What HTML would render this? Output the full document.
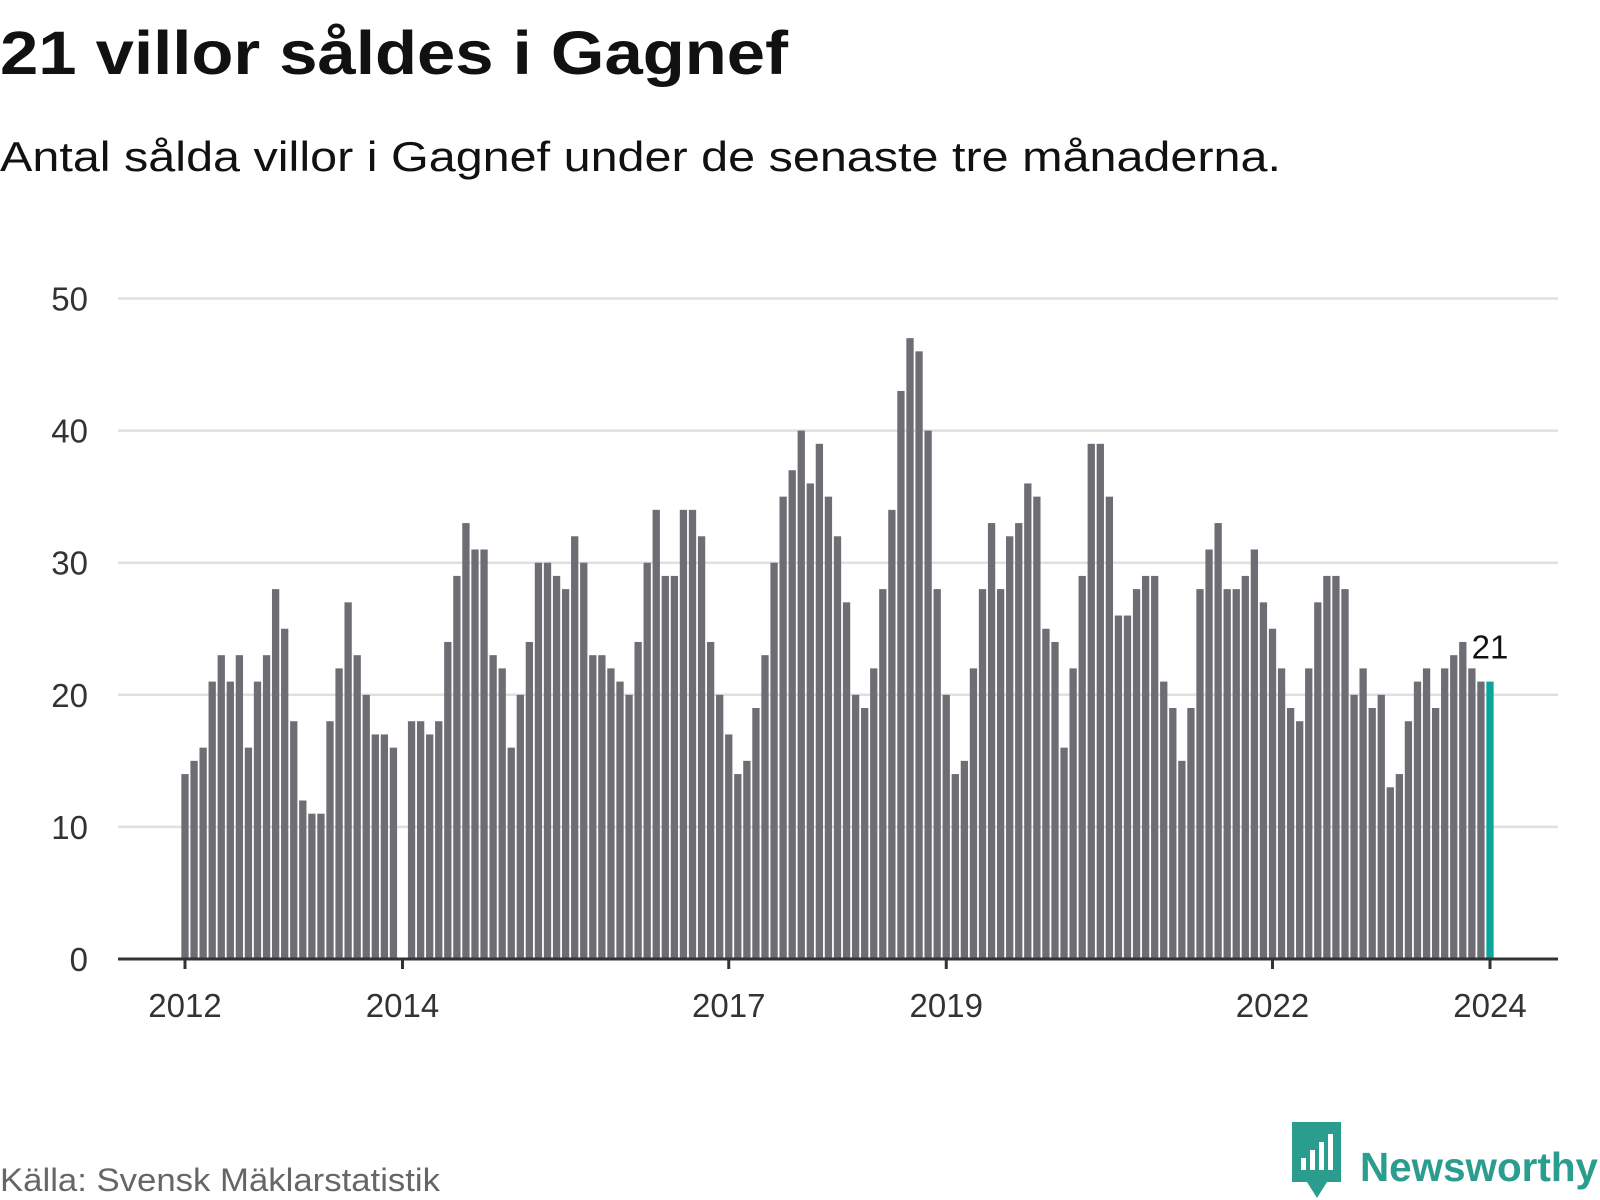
<!DOCTYPE html>
<html><head><meta charset="utf-8"><style>
html,body{margin:0;padding:0;background:#fff;}
svg{display:block;font-family:"Liberation Sans",sans-serif;}
</style></head><body>
<svg id="chart" width="1600" height="1200" viewBox="0 0 1600 1200">
<text x="0" y="74" font-size="61" font-weight="bold" fill="#111" textLength="788" lengthAdjust="spacingAndGlyphs">21 villor såldes i Gagnef</text>
<text x="0" y="171" font-size="42" fill="#111" textLength="1281" lengthAdjust="spacingAndGlyphs">Antal sålda villor i Gagnef under de senaste tre månaderna.</text>
<g id="grid"></g><g id="bars"></g><g id="axes"></g>
<text x="0" y="1191" font-size="32" fill="#666" textLength="440" lengthAdjust="spacingAndGlyphs">Källa: Svensk Mäklarstatistik</text>
<g>
<path d="M1292 1122 h49 v60 h-14 l-10 16 l-10 -16 h-15 z" fill="#2a9d8f"/>
<rect x="1301" y="1158" width="5" height="12" fill="#fff"/>
<rect x="1310" y="1150" width="5" height="20" fill="#fff"/>
<rect x="1319" y="1142" width="5" height="28" fill="#fff"/>
<rect x="1328" y="1134" width="5" height="36" fill="#fff"/>
<text x="1360" y="1181" font-size="41" font-weight="bold" fill="#2a9d8f" textLength="238" lengthAdjust="spacingAndGlyphs">Newsworthy</text>
</g>
</svg>
<script>
const values2012 = [14,15,16,21,23,21,23,16,21,23,28,25];
const values2013 = [18,12,11,11,18,22,27,23,20,17,17,16];
const values2014 = [null,18,18,17,18,24,29,33,31,31,23,22];
const values2015 = [16,20,24,30,30,29,28,32,30,23,23,22];
const values2016 = [21,20,24,30,34,29,29,34,34,32,24,20];
const values2017 = [17,14,15,19,23,30,35,37,40,36,39,35];
const values2018 = [32,27,20,19,22,28,34,43,47,46,40,28];
const values2019 = [20,14,15,22,28,33,28,32,33,36,35,25];
const values2020 = [24,16,22,29,39,39,35,26,26,28,29,29];
const values2021 = [21,19,15,19,28,31,33,28,28,29,31,27];
const values2022 = [25,22,19,18,22,27,29,29,28,20,22,19];
const values2023 = [20,13,14,18,21,22,19,22,23,24,22,21];
const values2024 = [21];
const yTicks = [0,10,20,30,40,50];
const xTickLabels = ["2012","2014","2017","2019","2022","2024"];
const xTickIndex = [0,24,60,84,120,144];

const values = [].concat(values2012,values2013,values2014,values2015,values2016,values2017,values2018,values2019,values2020,values2021,values2022,values2023,values2024);
const NS="http://www.w3.org/2000/svg";
const X0=185, X1=1490, Y0=959, Y50=298.5, N=values.length-1;
function xPos(i){return X0+i*(X1-X0)/N;}
function yPos(v){return Y0-v*(Y0-Y50)/50;}
function mk(tag,attrs,parent){const e=document.createElementNS(NS,tag);for(const k in attrs)e.setAttribute(k,attrs[k]);parent.appendChild(e);return e;}
const grid=document.getElementById('grid'), bars=document.getElementById('bars'), axes=document.getElementById('axes');
yTicks.forEach(t=>{
  if(t>0){const l=mk('line',{x1:118,x2:1558,y1:yPos(t),y2:yPos(t),stroke:'#e0e0e0','stroke-width':2.5},grid);
  
  }
  const tx=mk('text',{x:88,y:yPos(t)+12,'font-size':33,fill:'#333','text-anchor':'end'},axes);
  tx.textContent=t;
  
  
});
const bw=7.3;
values.forEach((v,i)=>{
  if(v===null)return;
  const last=i===values.length-1;
  const r=mk('rect',{x:xPos(i)-bw/2,y:yPos(v),width:bw,height:Y0-yPos(v),fill:last?'#0ba69b':'#6e6d74'},bars);
  
  
});
const ax=mk('line',{x1:118,x2:1558,y1:Y0,y2:Y0,stroke:'#333','stroke-width':3},axes);


xTickIndex.forEach((idx,k)=>{
  const tk=mk('line',{x1:xPos(idx),x2:xPos(idx),y1:Y0,y2:Y0+10,stroke:'#333','stroke-width':3},axes);
  
  
  const tx=mk('text',{x:xPos(idx),y:1017,'font-size':33,fill:'#333','text-anchor':'middle'},axes);
  tx.textContent=xTickLabels[k];
  
  
});
const lv=values[values.length-1];
const lbl=mk('text',{x:xPos(N),y:yPos(lv)-23,'font-size':33,fill:'#111','text-anchor':'middle',stroke:'#fff','stroke-width':5,'paint-order':'stroke'},axes);
lbl.textContent=lv;


</script>
</body></html>
